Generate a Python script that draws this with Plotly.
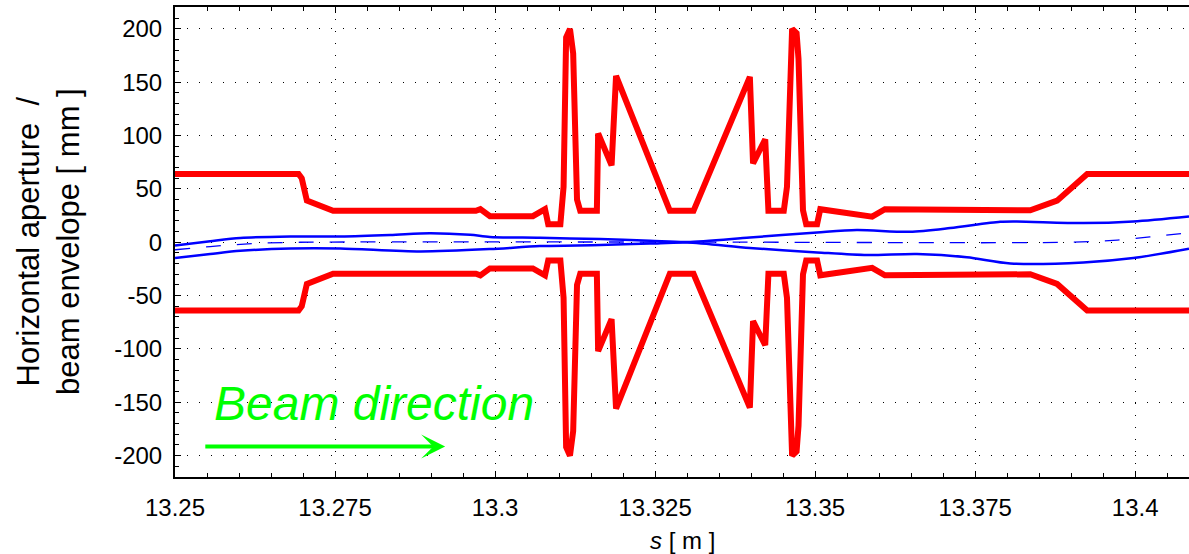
import plotly.graph_objects as go

# Horizontal aperture (upper half; the lower half is its mirror image)
s_aperture = [13.2500, 13.2693, 13.2698, 13.2706, 13.2747, 13.2970, 13.2977, 13.2992,
              13.3059, 13.3078, 13.3083, 13.3102, 13.3107, 13.3111, 13.3117, 13.3122,
              13.3128, 13.3133, 13.3159, 13.3161, 13.3182, 13.3189, 13.3273, 13.3310,
              13.3398, 13.3403, 13.3422, 13.3427, 13.3451, 13.3456, 13.3464, 13.3471,
              13.3474, 13.3481, 13.3486, 13.3503, 13.3508, 13.3589, 13.3609, 13.3836,
              13.3878, 13.3925, 13.4084]
aperture_mm = [64, 64, 60, 39, 29.5, 29.5, 31, 24.5,
               24.5, 31, 17, 17, 52, 192, 200, 177,
               40, 29.5, 29.5, 102, 72, 156, 29.5, 29.5,
               155, 74, 96.5, 29.5, 29.5, 52, 200, 196,
               172, 30, 17, 17, 31, 24, 31, 30,
               39, 64, 64]

# Beam envelope, outer edges
s_env_top = [13.2500, 13.2555, 13.2602, 13.2680, 13.2758, 13.2836, 13.2898, 13.2961,
             13.2992, 13.3070, 13.3164, 13.3242, 13.3300, 13.3398, 13.3503, 13.3565,
             13.3648, 13.3711, 13.3789, 13.3815, 13.3919, 13.3997, 13.4084]
env_top_mm = [-3, 1, 4, 5.4, 5.4, 6.8, 8.5, 7,
              5, 4.2, 3, 1.5, 0.3, 4.5, 9.2, 11.4,
              9.8, 13.3, 19.2, 19.5, 18, 19.5, 24.2]

s_env_bot = [13.2500, 13.2555, 13.2602, 13.2680, 13.2758, 13.2883, 13.2992, 13.3070,
             13.3164, 13.3242, 13.3300, 13.3398, 13.3503, 13.3581, 13.3659, 13.3737,
             13.3805, 13.3919, 13.3997, 13.4084]
env_bot_mm = [-14.8, -11, -8, -5.8, -5.8, -8.6, -6.4, -3.6,
              -2.6, -1.2, -0.3, -5.4, -9.5, -12, -11, -14,
              -19.8, -18.9, -14.8, -6.0]

# Beam centroid
s_centre = [13.2500, 13.2555, 13.2627, 13.2695, 13.3300, 13.3894, 13.3972, 13.4023, 13.4084]
centre_mm = [-7, -4, -1, 0, 0.2, 0, 2, 5, 9]

x_ticks = [13.25, 13.275, 13.3, 13.325, 13.35, 13.375, 13.4]
x_tick_labels = ["13.25", "13.275", "13.3", "13.325", "13.35", "13.375", "13.4"]
y_ticks = [-200, -150, -100, -50, 0, 50, 100, 150, 200]
y_tick_labels = ["-200", "-150", "-100", "-50", "0", "50", "100", "150", "200"]

FONT = "Liberation Sans, Arial, Helvetica, sans-serif"
RED = "#ff0000"
BLUE = "#0000ff"
GREEN = "#00ff00"

fig = go.Figure()

for sign in (1, -1):
    fig.add_trace(go.Scatter(
        x=s_aperture, y=[sign * v for v in aperture_mm], mode="lines",
        line=dict(color=RED, width=6), hoverinfo="skip", showlegend=False))

fig.add_trace(go.Scatter(x=s_env_top, y=env_top_mm, mode="lines",
                         line=dict(color=BLUE, width=2.5, shape="spline", smoothing=0.8),
                         showlegend=False))
fig.add_trace(go.Scatter(x=s_env_bot, y=env_bot_mm, mode="lines",
                         line=dict(color=BLUE, width=2.5, shape="spline", smoothing=0.8),
                         showlegend=False))
fig.add_trace(go.Scatter(x=s_centre, y=centre_mm, mode="lines",
                         line=dict(color=BLUE, width=1.3, dash="15px,16px",
                                   shape="spline", smoothing=0.8),
                         showlegend=False))

grid = dict(showgrid=True, gridcolor="black", gridwidth=1, griddash="1px,11px")

fig.update_xaxes(
    range=[13.25, 13.4084], tickmode="array", tickvals=x_ticks, ticktext=x_tick_labels,
    ticks="inside", ticklen=6, tickwidth=1, tickcolor="black",
    showline=True, linecolor="black", linewidth=2, mirror="allticks",
    zeroline=False, tickfont=dict(family=FONT, size=24, color="black"),
    ticklabelstandoff=8,
    minor=dict(tickmode="linear", tick0=13.25, dtick=0.005, ticks="inside",
               ticklen=4, tickcolor="black", showgrid=False),
    **grid)
fig.update_yaxes(
    range=[-220, 220.5], tickmode="array", tickvals=y_ticks, ticktext=y_tick_labels,
    ticks="inside", ticklen=6, tickwidth=1, tickcolor="black",
    showline=True, linecolor="black", linewidth=2, mirror=False,
    zeroline=False, tickfont=dict(family=FONT, size=24, color="black"),
    ticklabelstandoff=6,
    minor=dict(tickmode="linear", tick0=0, dtick=10, ticks="inside",
               ticklen=4, tickcolor="black", showgrid=False),
    **grid)

fig.add_annotation(
    text="Horizontal aperture \u00a0/<br>beam envelope [ mm ]", textangle=-90,
    xref="paper", x=0, xshift=-127, xanchor="center",
    yref="paper", y=0.5, yanchor="middle", showarrow=False,
    font=dict(family=FONT, size=31, color="black"))
fig.add_annotation(
    text="<i>s</i> [ m ]", xref="paper", x=0.5, xanchor="center",
    yref="paper", y=0, yshift=-63, yanchor="middle", showarrow=False,
    font=dict(family=FONT, size=24, color="black"))

fig.add_annotation(
    text="<i>Beam direction</i>", xref="x", x=13.2558, xanchor="left",
    yref="y", y=-151, yanchor="middle", showarrow=False,
    font=dict(family=FONT, size=48, color=GREEN))
fig.add_annotation(
    text="", xref="x", yref="y", x=13.2922, y=-191.5,
    axref="x", ayref="y", ax=13.2545, ay=-191.5,
    showarrow=True, arrowhead=3, arrowsize=1, arrowwidth=4,
    arrowcolor=GREEN, standoff=0)

fig.update_layout(
    width=1189, height=554,
    margin=dict(l=175, r=0, t=7, b=77),
    plot_bgcolor="white", paper_bgcolor="white",
    font=dict(family=FONT, color="black"),
    showlegend=False)

fig.write_html("out.html")
